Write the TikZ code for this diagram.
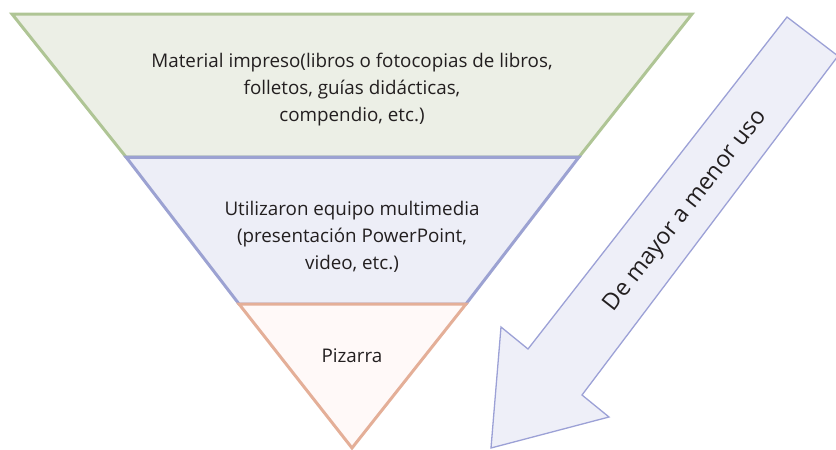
\documentclass[tikz,border=0pt]{standalone}
\usepackage{fontspec}
\setmainfont{Open Sans}
\definecolor{gfill}{HTML}{ECEFE6}
\definecolor{gline}{HTML}{AFC595}
\definecolor{bfill}{HTML}{EDEEF7}
\definecolor{bline}{HTML}{9CA2D2}
\definecolor{rfill}{HTML}{FFF9F8}
\definecolor{rline}{HTML}{E4AF98}
\definecolor{afill}{HTML}{EEEFF8}
\definecolor{aline}{HTML}{9CA1D6}
\definecolor{txt}{HTML}{231F20}
\tikzset{
  level/.style={line width=3pt, line join=miter},
  lbl/.style={align=center, text=txt, inner sep=0pt, font=\fontsize{18.8}{27}\selectfont},
}
\begin{document}
\begin{tikzpicture}[x=1pt,y=-1pt]
\useasboundingbox (0,0) rectangle (836,450);
% funnel
\coordinate (tl) at (12,14);
\coordinate (tr) at (692,14);
\coordinate (ml) at (126,157);
\coordinate (mr) at (579,157);
\coordinate (bl) at (239,304);
\coordinate (br) at (466,304);
\coordinate (ap) at (352,448);
\draw[level, draw=gline, fill=gfill] (tl) -- (tr) -- (mr) -- (ml) -- cycle;
\draw[level, draw=bline, fill=bfill] (ml) -- (mr) -- (br) -- (bl) -- cycle;
\draw[level, draw=rline, fill=rfill] (bl) -- (br) -- (ap) -- cycle;
\draw[level, draw=bline] (ml) -- (mr);
% arrow
\draw[line width=1.3pt, draw=aline, fill=afill, line join=miter]
  (787,17) -- (838,56) -- (582,395) -- (609,417) -- (491,448) -- (501,327) -- (528,349) -- cycle;
% texts
\node[lbl] (t1) at (352,90) {Material impreso(libros o fotocopias de libros,\\folletos, guías didácticas,\\compendio, etc.)};
\node[lbl] (t2) at (352,237) {Utilizaron equipo multimedia\\(presentación PowerPoint,\\video, etc.)};
\node[lbl] (t3) at (352,356) {Pizarra};
\node[lbl, rotate=52, font=\fontsize{23.2}{28}\selectfont] (t4) at (686,211) {De mayor a menor uso};
\end{tikzpicture}
\end{document}
